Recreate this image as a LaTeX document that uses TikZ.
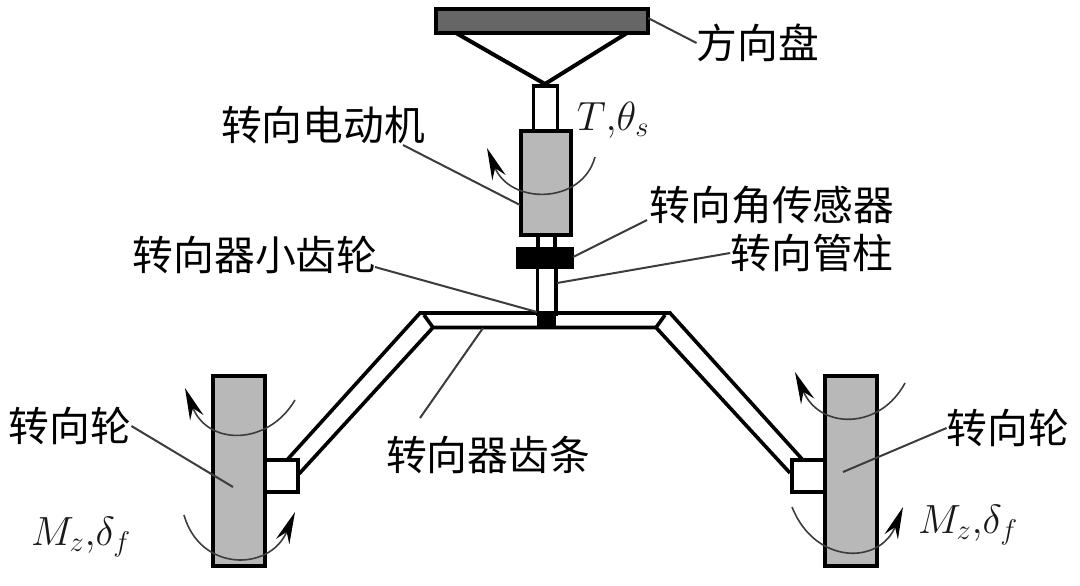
\documentclass[tikz,border=0pt]{standalone}
\usepackage{fix-cm}
\usepackage{fontspec}
\newfontfamily\cjk{Noto Sans CJK SC}
\usepackage{amsmath}
\usetikzlibrary{arrows.meta,positioning}
\definecolor{wheelgray}{RGB}{184,184,184}
\definecolor{handgray}{RGB}{102,102,102}
\definecolor{leadergray}{RGB}{60,60,60}
\tikzset{
  partbox/.style={draw=black, line width=1mm, inner sep=0pt, outer sep=0pt},
  leader/.style={draw=leadergray, line width=0.5mm},
  turn/.style={draw=leadergray, line width=0.4mm, -{Stealth[length=8mm,width=3.6mm,black]}},
  linkline/.style={draw=black, line width=0.9mm},
  cntext/.style={font=\cjk\fontsize{29}{32}\selectfont, inner sep=0pt},
  mathtext/.style={font=\fontsize{29}{32}\selectfont, inner sep=0pt, text=black!90}
}
\begin{document}
\begin{tikzpicture}[x=0.25mm, y=-0.25mm]
  \useasboundingbox (0,0) rectangle (1080,585);

  % steering wheel and column
  \node[partbox, fill=handgray, minimum width=53mm, minimum height=6mm] (hand) at (541.5,20.5) {};
  \coordinate (apex) at (545,84);
  \draw[linkline, line width=1mm] (456,33) -- (apex) -- (627,33);
  \node[partbox, line width=0.8mm, fill=white, minimum width=6mm, minimum height=11.5mm] (shaft) at (545.5,109) {};
  \draw[linkline] (538,235) -- (538,248) (555,235) -- (555,248);
  \node[partbox, fill=wheelgray, minimum width=12.5mm, minimum height=26mm] (motor) at (545.5,183) {};
  \node[partbox, line width=0.8mm, fill=white, minimum width=4.7mm, minimum height=12mm] (column) at (546.5,290) {};
  \node[partbox, fill=black, minimum width=13.5mm, minimum height=4.5mm] (sensor) at (545,257.5) {};

  % rack and tie rods
  \draw[linkline, line join=miter] (287,460) -- (420,313) -- (670,313) -- (802,459);
  \draw[linkline] (298,475) -- (433,327.5) -- (656,327.5) -- (790,473);
  \draw[linkline] (424,315) -- (433,327.5) (665,315) -- (656,327.5);
  \node[fill=black, inner sep=0pt, outer sep=0pt, minimum width=4.7mm, minimum height=4.2mm] (pinion) at (546.5,319.5) {};

  % road wheels
  \node[partbox, fill=wheelgray, minimum width=13mm, minimum height=47.5mm] (wheelL) at (238.5,470.5) {};
  \node[partbox, fill=wheelgray, minimum width=13mm, minimum height=47.5mm] (wheelR) at (851,470.5) {};
  \node[partbox, fill=white, minimum width=8.2mm, minimum height=8mm] (hubL) at (281.5,476) {};
  \node[partbox, fill=white, minimum width=8.2mm, minimum height=8mm] (hubR) at (808.5,476) {};

  % rotation marks
  \draw[turn] (595,157) .. controls (582,205) and (510,205) .. (487,148);
  \draw[turn] (295,400) .. controls (268,446) and (208,446) .. (185,388);
  \draw[turn] (184,515) .. controls (200,572) and (270,572) .. (295,512);
  \draw[turn] (905,383) .. controls (880,430) and (820,430) .. (795,372);
  \draw[turn] (792,507) .. controls (815,565) and (880,565) .. (903,507);

  % labels
  \node[cntext] (lblhand) at (758,43) {方向盘};
  \node[cntext] (lblmotor) at (323,125) {转向电动机};
  \node[cntext] (lblsensor) at (772,205) {转向角传感器};
  \node[cntext] (lblcolumn) at (812,253) {转向管柱};
  \node[cntext] (lblpinion) at (255,255) {转向器小齿轮};
  \node[cntext] (lblrack) at (488,455) {转向器齿条};
  \node[cntext] (lblwheelL) at (70,426) {转向轮};
  \node[cntext] (lblwheelR) at (1008,428) {转向轮};
  \node[mathtext] (lbltorque) at (613,120) {$T{,}\theta_s$};
  \node[mathtext] (lblforceL) at (81,537) {$M_z{,}\delta_f$};
  \node[mathtext] (lblforceR) at (968,525) {$M_z{,}\delta_f$};

  % leaders
  \coordinate (inL) at (233,487);
  \coordinate (inR) at (843,472);
  \coordinate (inrack) at (483,328);
  \coordinate (inmotor) at (520,205);
  \coordinate (incolumn) at (557,283);
  \coordinate (inpinion) at (537,312);
  \coordinate (insensor) at (573,257);
  \coordinate (inhand) at (648,18);
  \coordinate (outmotor) at (403,145);
  \coordinate (outsensor) at (647,220);
  \coordinate (outpinion) at (375,267);
  \coordinate (outrack) at (420,418);
  \draw[leader] (inhand) -- (lblhand.west);
  \draw[leader] (outmotor) -- (inmotor);
  \draw[leader] (outsensor) -- (insensor);
  \draw[leader] (lblcolumn.west) -- (incolumn);
  \draw[leader] (outpinion) -- (inpinion);
  \draw[leader] (outrack) -- (inrack);
  \draw[leader] (lblwheelL.east) -- (inL);
  \draw[leader] (lblwheelR.west) -- (inR);
\end{tikzpicture}
\end{document}
